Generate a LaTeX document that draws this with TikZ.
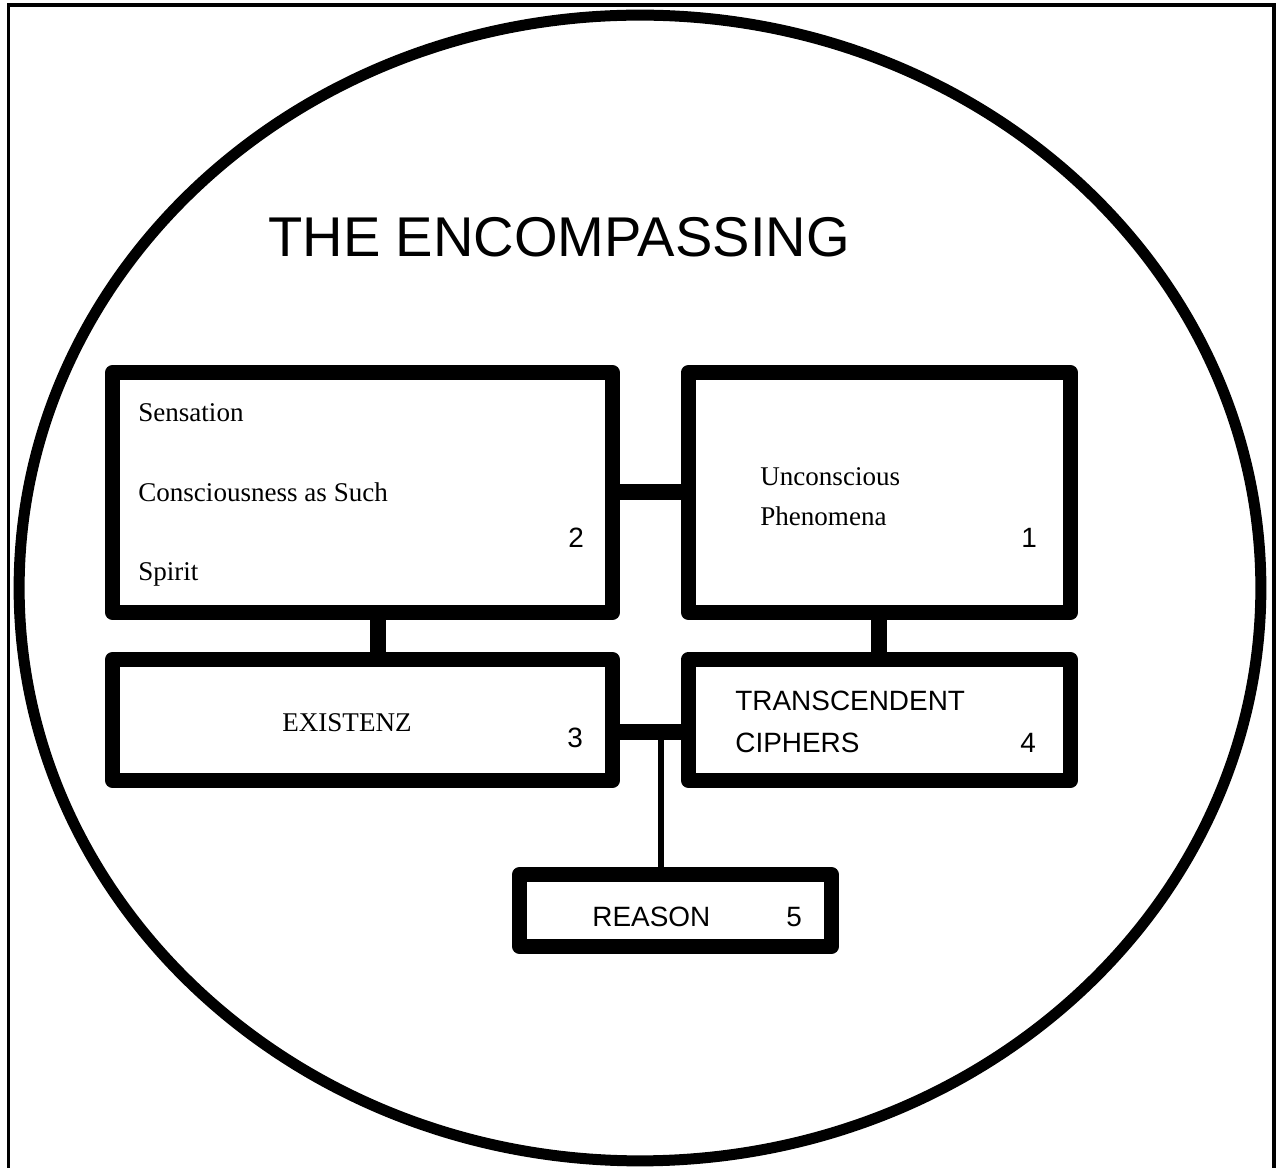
\documentclass[tikz,border=0pt]{standalone}
\usepackage{fontspec}
\setmainfont{Liberation Serif}
\setsansfont{Liberation Sans}
\usepackage{tikz}
\usetikzlibrary{positioning,calc}

\begin{document}
\begin{tikzpicture}[
    x=0.02cm, y=-0.02cm,
    box/.style={rectangle, draw, line width=0.3cm, line join=round, inner sep=0pt},
    bar/.style={line width=0.32cm},
    thinbar/.style={line width=0.12cm},
    rm/.style={anchor=base west, inner sep=0pt, font=\fontsize{15.4pt}{18pt}\selectfont},
    sf/.style={anchor=base west, inner sep=0pt, font=\sffamily\fontsize{15.9pt}{19pt}\selectfont},
    headline/.style={anchor=base west, inner sep=0pt, font=\sffamily\fontsize{31.9pt}{38pt}\selectfont}
]
    \useasboundingbox (0,0) rectangle (1276,1168);
    \draw[line width=0.08cm] (8.5,1180) |- (1273.5,5.5) -- (1273.5,1180);
    \draw[line width=0.22cm] (640,588) ellipse [x radius=12.42cm, y radius=11.46cm];

    \node[headline] (title) at (268,257) {THE ENCOMPASSING};

    \node[box, minimum width=10cm, minimum height=4.8cm] (b2) at (362.5,492.5) {};
    \node[box, minimum width=7.64cm, minimum height=4.8cm, right=1.22cm of b2] (b1) {};
    \node[box, minimum width=10cm, minimum height=2.42cm, below=0.64cm of b2] (b3) {};
    \node[box, minimum width=7.64cm, minimum height=2.42cm, below=0.64cm of b1] (b4) {};
    \node[box, minimum width=6.24cm, minimum height=1.44cm] (b5) at (675.5,910.5) {};

    \draw[bar] (b2) -- (b1);
    \draw[bar] ($(b2.south)+(15.5,0)$) -- ($(b3.north)+(15.5,0)$);
    \draw[bar] (b1) -- (b4);
    \draw[bar] ($(b3.east)+(0,12)$) -- ($(b4.west)+(0,12)$);
    \coordinate (j) at ($(b3.east)+(41.5,12)$);
    \draw[thinbar] (j) -- (j |- b5.north);

    \node[rm] (sens) at (138,422) {Sensation};
    \node[rm] (cons) at (138,502) {Consciousness as Such};
    \node[rm] (spir) at (138,581) {Spirit};
    \node[sf] (n2) at (568,548) {2};

    \node[rm] (unc) at (760,486) {Unconscious};
    \node[rm] (phen) at (760,526) {Phenomena};
    \node[sf] (n1) at (1021,548) {1};

    \node[rm] (exi) at (282,732) {EXISTENZ};
    \node[sf] (n3) at (567,748) {3};

    \node[sf] (trans) at (735,711) {TRANSCENDENT};
    \node[sf] (ciph) at (735,753) {CIPHERS};
    \node[sf] (n4) at (1020,753) {4};

    \node[sf] (reas) at (592,927) {REASON};
    \node[sf] (n5) at (786,927) {5};
\end{tikzpicture}
\end{document}
